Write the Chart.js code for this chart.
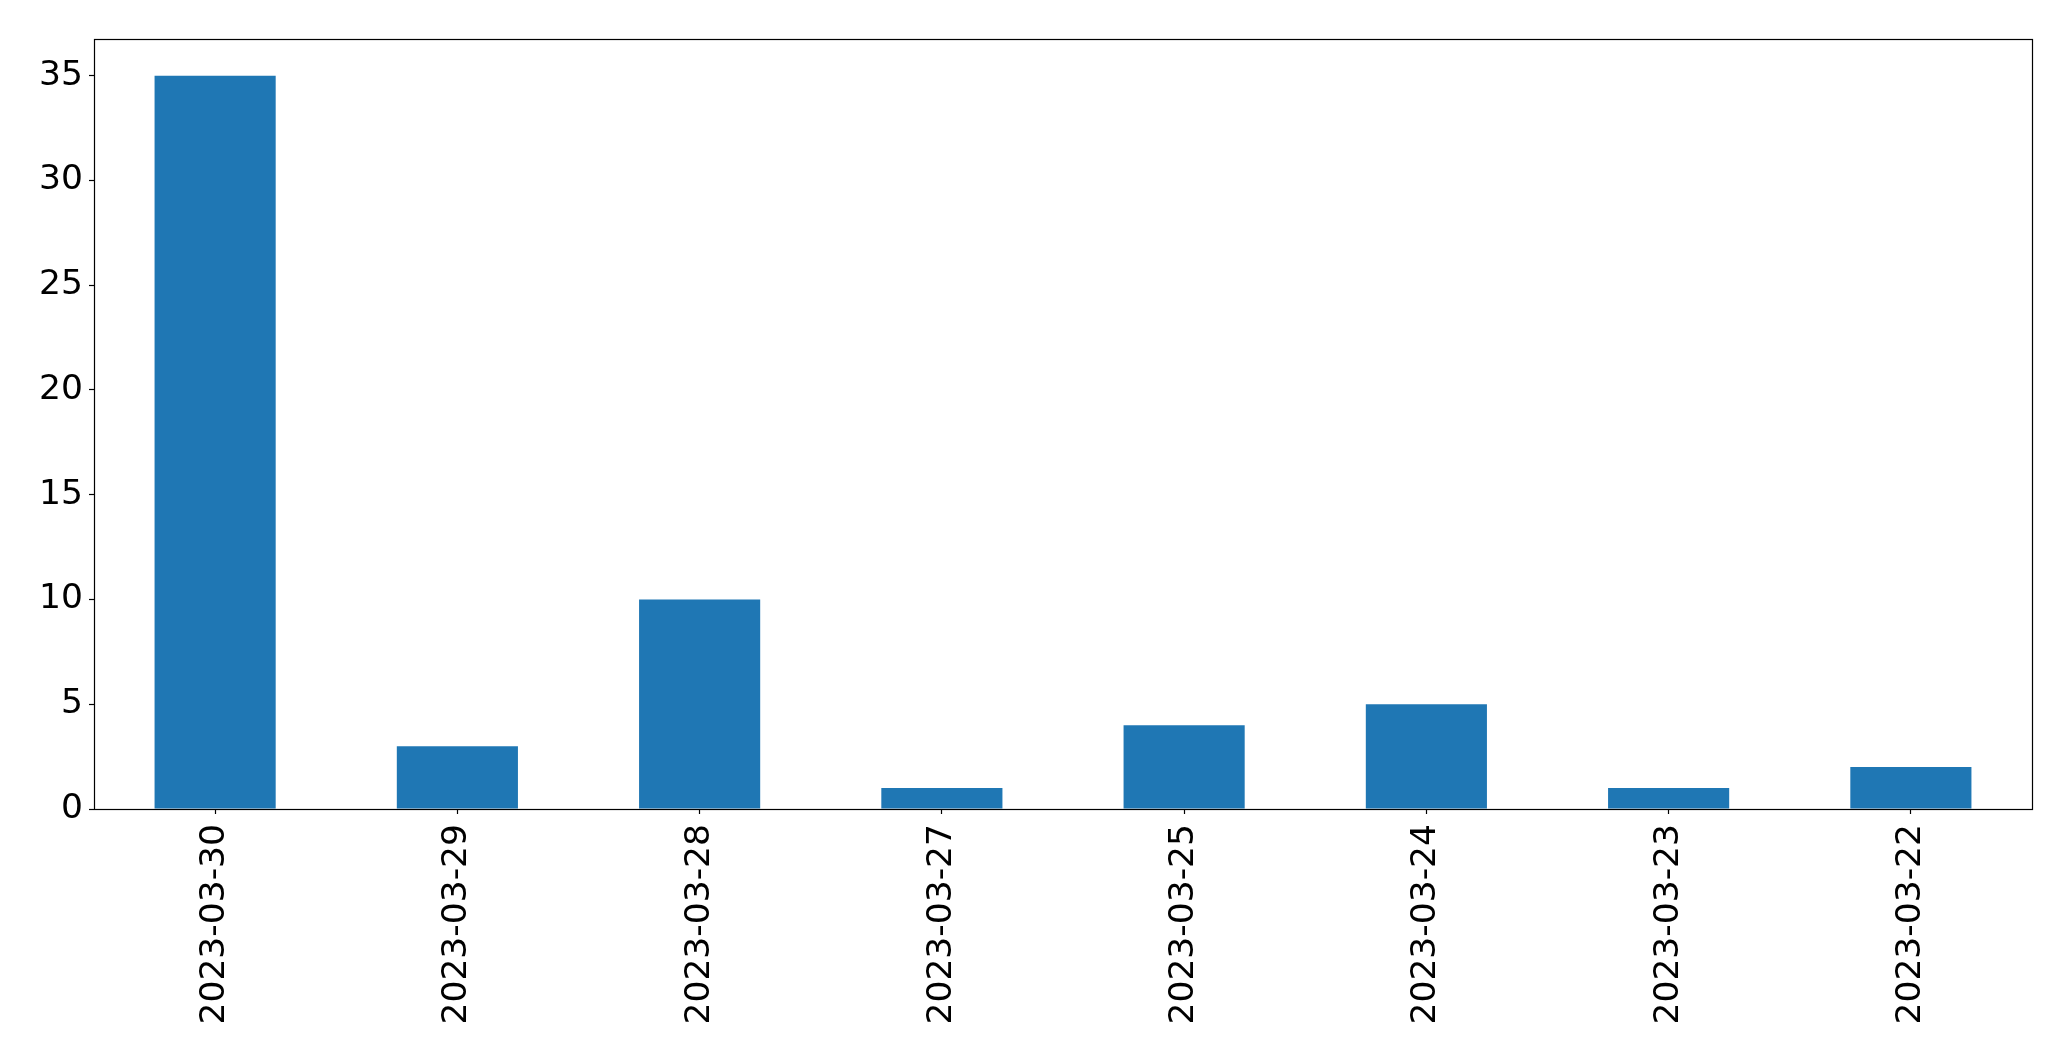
<!DOCTYPE html>
<html>
<head>
<meta charset="utf-8">
<script src="https://cdn.jsdelivr.net/npm/chart.js@4/dist/chart.umd.min.js"></script>
<style>
html,body{margin:0;padding:0;background:#fff;}
#wrap{width:2071px;height:1061px;}
</style>
</head>
<body>
<div id="wrap"><canvas id="c" width="2071" height="1061"></canvas></div>
<script>
const categories = ['2023-03-30','2023-03-29','2023-03-28','2023-03-27','2023-03-25','2023-03-24','2023-03-23','2023-03-22'];
const counts = [35, 3, 10, 1, 4, 5, 1, 2];
const yTicks = [0, 5, 10, 15, 20, 25, 30, 35];

const FONT = {family: 'DejaVu Sans', size: 34.5};

const frame = {
  id: 'frame',
  afterDatasetsDraw(chart) {
    const a = chart.chartArea, ctx = chart.ctx;
    const l = Math.round(a.left) + 0.5, t = Math.round(a.top) + 0.5;
    const r = Math.round(a.right) + 0.5, b = Math.round(a.bottom) + 0.5;
    ctx.save();
    ctx.strokeStyle = '#000';
    ctx.lineWidth = 1.2;
    ctx.strokeRect(l, t, r - l, b - t);
    ctx.restore();
  }
};

new Chart(document.getElementById('c'), {
  type: 'bar',
  data: {
    labels: categories,
    datasets: [{
      data: counts,
      backgroundColor: '#1f77b4',
      borderWidth: 0,
      categoryPercentage: 1.0,
      barPercentage: 0.5
    }]
  },
  options: {
    responsive: false,
    animation: false,
    devicePixelRatio: 1,
    layout: {padding: {top: 39, right: 39, left: 0, bottom: 0}},
    plugins: {legend: {display: false}, tooltip: {enabled: false}},
    scales: {
      x: {
        offset: true,
        grid: {display: true, offset: false, drawOnChartArea: false, drawTicks: true, tickLength: 5, color: '#000', tickWidth: 1.2},
        border: {display: false},
        ticks: {color: '#000', font: FONT, minRotation: 90, maxRotation: 90, padding: 10, autoSkip: false},
        afterFit(s) { s.height = 252; }
      },
      y: {
        min: 0,
        max: 36.75,
        grid: {display: true, drawOnChartArea: false, drawTicks: true, tickLength: 5, color: '#000', tickWidth: 1.2},
        border: {display: false},
        ticks: {color: '#000', font: FONT, stepSize: 5, padding: 6},
        afterBuildTicks(s) { s.ticks = yTicks.map(v => ({value: v})); },
        afterFit(s) { s.width = 94; }
      }
    }
  },
  plugins: [frame]
});
</script>
</body>
</html>
